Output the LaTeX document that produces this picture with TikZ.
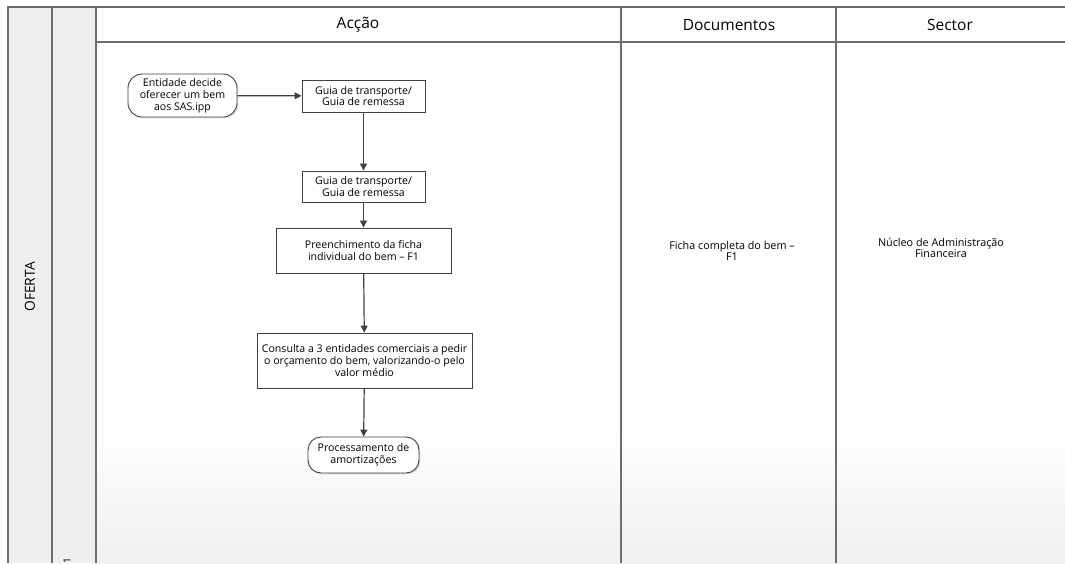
\documentclass[tikz,border=0pt]{standalone}
\usepackage{fontspec}
\setmainfont{Open Sans}
\usetikzlibrary{arrows.meta,shadows}
\definecolor{lanegray}{HTML}{EFEFEF}
\definecolor{gridline}{HTML}{6E6E6E}
\definecolor{ink}{HTML}{404040}
\tikzset{
  every node/.style={font=\fontsize{10.6}{11.8}\selectfont, text=black},
  procbox/.style={draw=ink, line width=0.9pt, fill=white, align=center, inner sep=1pt,
    drop shadow={shadow xshift=1.4pt, shadow yshift=-1.4pt, opacity=0.25}},
  termbox/.style={procbox, rounded corners=14pt},
  flow/.style={draw=ink, line width=1.2pt, -{Triangle[length=7pt,width=7pt]}},
  lane/.style={draw=gridline, line width=1.3pt},
  headtext/.style={font=\fontsize{15.5}{17}\selectfont},
  celltext/.style={align=center, font=\fontsize{10.8}{11.6}\selectfont}
}
\begin{document}
\begin{tikzpicture}[x=1pt,y=-1pt]
\useasboundingbox (0,0) rectangle (1065,563);
% backgrounds
\fill[white] (0,0) rectangle (1065,563);
\fill[lanegray] (8,7) rectangle (96,563);
\shade[top color=white, bottom color=black!6] (96,425) rectangle (1065,563);
% grid lines
\draw[lane] (1065,7) -- (8,7) -- (8,563);
\draw[lane] (52,7) -- (52,563);
\draw[lane] (96,7) -- (96,563);
\draw[lane] (96,42) -- (1065,42);
\draw[lane] (621,7) -- (621,563);
\draw[lane] (836,7) -- (836,563);
% headers
\node[headtext] (hA) at (358,25) {Acção};
\node[headtext] (hD) at (729,25) {Documentos};
\node[headtext] (hS) at (950,25) {Sector};
\node[rotate=90, font=\fontsize{13.8}{15}\selectfont] (lane) at (30,287) {OFERTA};
\node[rotate=90, font=\fontsize{10}{11}\selectfont] (num) at (67,561) {1};
% flow nodes
\node[termbox, minimum width=109pt, minimum height=43pt] (start) at (182.5,95.5)
  {Entidade decide\\oferecer um bem\\aos SAS.ipp};
\node[procbox, minimum width=123pt, minimum height=32pt] (g1) at (363.5,96)
  {Guia de transporte/\\Guia de remessa};
\node[procbox, minimum width=123pt, minimum height=31pt] (g2) at (363.5,186.5)
  {Guia de transporte/\\Guia de remessa};
\node[procbox, minimum width=175pt, minimum height=45pt] (fill) at (363.5,250.5)
  {Preenchimento da ficha\\individual do bem – F1};
\node[procbox, minimum width=215pt, minimum height=55pt] (cons) at (364.5,360.5)
  {Consulta a 3 entidades comerciais a pedir\\o orçamento do bem, valorizando-o pelo\\valor médio};
\node[termbox, rounded corners=13pt, minimum width=111pt, minimum height=36pt] (end) at (363.5,455)
  {Processamento de\\amortizações};
% connectors
\draw[flow] (start) -- (g1);
\draw[flow] (g1) -- (g2);
\draw[flow] (g2) -- (fill);
\draw[flow] (fill) -- (cons);
\draw[flow] (cons) -- (end);
% cell texts
\node[celltext] (doc) at (732,251) {Ficha completa do bem –\\F1};
\node[celltext] (sec) at (941,248) {Núcleo de Administração\\Financeira};
\end{tikzpicture}
\end{document}
